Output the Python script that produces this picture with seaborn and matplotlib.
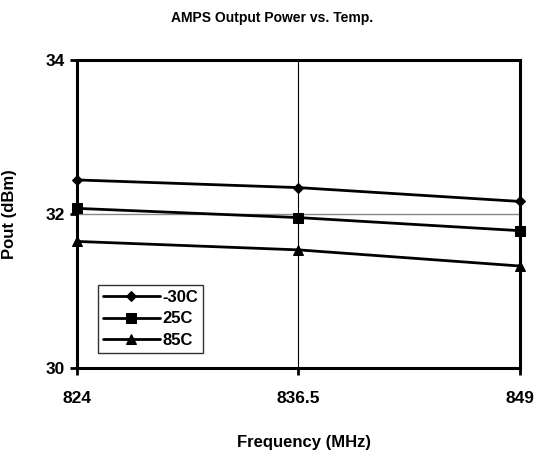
import pandas as pd
import matplotlib
matplotlib.use("Agg")
import matplotlib.pyplot as plt
import seaborn as sns

freq = [824, 836.5, 849]
p_m30 = [32.44, 32.34, 32.16]
p_25 = [32.07, 31.95, 31.78]
p_85 = [31.64, 31.53, 31.32]
labels = ["-30C", "25C", "85C"]
markers = ["D", "s", "^"]
msizes = [5.5, 7, 7.5]

df = pd.concat([
    pd.DataFrame({"freq": freq, "pout": p_m30, "temp": labels[0]}),
    pd.DataFrame({"freq": freq, "pout": p_25, "temp": labels[1]}),
    pd.DataFrame({"freq": freq, "pout": p_85, "temp": labels[2]}),
])

sns.set_theme(style="white")
plt.rcParams['font.family'] = ['Liberation Sans', 'DejaVu Sans']
plt.rcParams['font.weight'] = 'bold'
plt.rcParams['text.color'] = 'black'
plt.rcParams['axes.labelcolor'] = 'black'
plt.rcParams['xtick.color'] = 'black'
plt.rcParams['ytick.color'] = 'black'

fig = plt.figure(figsize=(5.37, 4.58), dpi=100)
ax = fig.add_axes([77 / 537, 1 - 367.5 / 458, 443 / 537, 307.5 / 458])

ax.axvline(836.5, color="black", lw=0.8, zorder=1)
ax.axhline(32, color="#888888", lw=1.0, zorder=1)

for lab, m, ms in zip(labels, markers, msizes):
    sub = df[df["temp"] == lab]
    sns.lineplot(data=sub, x="freq", y="pout", ax=ax, color="black", lw=2,
                 marker=m, markersize=ms, markeredgecolor="black",
                 label=lab, clip_on=False, zorder=3)

ax.set_xlim(824, 849)
ax.set_ylim(30, 34)
ax.set_xticks(freq)
ax.set_xticklabels(["824", "836.5", "849"])
ax.set_yticks([30, 32, 34])
for s in ax.spines.values():
    s.set_linewidth(2.2)
    s.set_color("black")
ax.tick_params(axis="both", direction="out", length=5, width=2, color="black",
               labelsize=12.5, bottom=True, left=True)
ax.tick_params(axis="x", pad=12)
fig.text(0.506, 1 - 18 / 458, "AMPS Output Power vs. Temp.", fontsize=10,
         fontweight="bold", ha="center", va="center")
ax.set_xlabel("Frequency (MHz)", fontsize=12, fontweight="bold", labelpad=20)
ax.xaxis.set_label_coords(0.512, -0.22)
ax.set_ylabel("Pout (dBm)", fontsize=12, fontweight="bold")
ax.yaxis.set_label_coords(-0.135, 0.5)

leg = ax.legend(loc="lower left", bbox_to_anchor=(21 / 443, 14.5 / 307.5),
                fontsize=12, frameon=True, fancybox=False, edgecolor="black",
                handlelength=3.4, handletextpad=0.15, borderpad=0.3,
                labelspacing=0.4, borderaxespad=0)
leg.get_frame().set_linewidth(1)

fig.savefig("out.png", dpi=100)
